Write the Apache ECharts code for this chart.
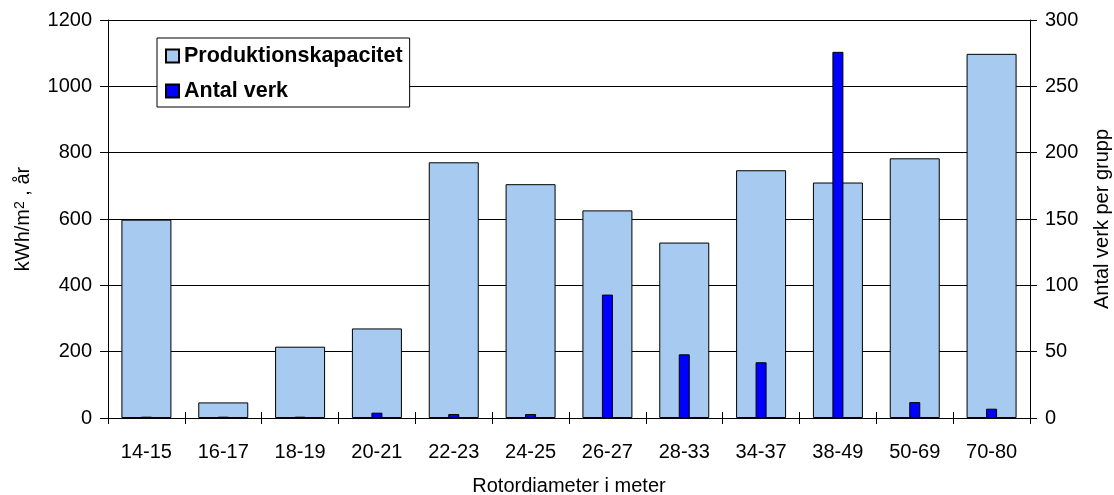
<!DOCTYPE html>
<html>
<head>
<meta charset="utf-8">
<script src="https://cdn.jsdelivr.net/npm/echarts@6/dist/echarts.min.js"></script>
<style>
  html, body { margin: 0; padding: 0; background: #fff; }
  #chart { width: 1114px; height: 495px; }
</style>
</head>
<body>
<div id="chart"></div>
<script>
// Rotor diameter groups (m)
const categories = ['14-15', '16-17', '18-19', '20-21', '22-23', '24-25', '26-27', '28-33', '34-37', '38-49', '50-69', '70-80'];
// Production capacity, kWh/m², år (left axis)
const produktionskapacitet = [598, 47, 215, 270, 771, 705, 626, 529, 747, 710, 783, 1098];
// Number of turbines per group (right axis)
const antalVerk = [1, 1, 1, 4, 3, 3, 93, 48, 42, 276, 12, 7];

const leftTicks = { min: 0, max: 1200, interval: 200 };
const rightTicks = { min: 0, max: 300, interval: 50 };

const FONT = '"Liberation Sans", Arial, sans-serif';
const black = '#000000';
const plain = (v) => String(v);

const chart = echarts.init(document.getElementById('chart'), null, { renderer: 'canvas' });

chart.setOption({
  animation: false,
  backgroundColor: '#ffffff',
  textStyle: { fontFamily: FONT, color: black },
  grid: { left: 108, right: 84, top: 20, bottom: 77, containLabel: false, outerBoundsMode: 'none' },
  legend: {
    orient: 'vertical',
    left: 157,
    top: 38,
    padding: [7, 7, 5, 8],
    itemGap: 13,
    itemWidth: 13,
    itemHeight: 13,
    backgroundColor: '#ffffff',
    borderColor: black,
    borderWidth: 1,
    borderRadius: 0,
    icon: 'rect',
    textStyle: { fontFamily: FONT, fontSize: 21.5, fontWeight: 'bold', color: black },
    data: ['Produktionskapacitet', 'Antal verk']
  },
  xAxis: [
    {
      type: 'category',
      data: categories,
      position: 'bottom',
      axisLine: { lineStyle: { color: black, width: 1 } },
      axisTick: { show: true, inside: false, length: 6, lineStyle: { color: black, width: 1 } },
      axisLabel: { fontFamily: FONT, fontSize: 20, color: black, margin: 24, interval: 0 },
      splitLine: { show: false },
      name: 'Rotordiameter i meter',
      nameLocation: 'middle',
      nameGap: 58,
      nameTextStyle: { fontFamily: FONT, fontSize: 20, color: black }
    },
    {
      // twin category axis: inside half of the crossing tick marks, and centring of the narrow bars
      type: 'category',
      data: categories,
      position: 'bottom',
      axisLine: { show: false },
      axisTick: { show: true, inside: true, length: 6, lineStyle: { color: black, width: 1 } },
      axisLabel: { show: false },
      splitLine: { show: false }
    }
  ],
  yAxis: [
    {
      type: 'value',
      position: 'left',
      min: leftTicks.min,
      max: leftTicks.max,
      interval: leftTicks.interval,
      axisLine: { show: true, lineStyle: { color: black, width: 1 } },
      axisTick: { show: true, inside: false, length: 8, lineStyle: { color: black } },
      axisLabel: { fontFamily: FONT, fontSize: 20, color: black, margin: 16, formatter: plain },
      splitLine: { show: true, lineStyle: { color: black, width: 1 } },
      name: '{a|kWh/m}{s|2}{a| , år}',
      nameLocation: 'middle',
      nameRotate: 90,
      nameGap: 75,
      nameTextStyle: {
        fontFamily: FONT,
        color: black,
        rich: {
          a: { fontFamily: FONT, fontSize: 20, color: black },
          s: { fontFamily: FONT, fontSize: 14, color: black, verticalAlign: 'top' }
        }
      }
    },
    {
      type: 'value',
      position: 'right',
      min: rightTicks.min,
      max: rightTicks.max,
      interval: rightTicks.interval,
      axisLine: { show: true, lineStyle: { color: black, width: 1 } },
      axisTick: { show: true, inside: false, length: 7, lineStyle: { color: black } },
      axisLabel: { fontFamily: FONT, fontSize: 20, color: black, margin: 15, formatter: plain },
      splitLine: { show: false },
      name: 'Antal verk per grupp',
      nameLocation: 'middle',
      nameRotate: 90,
      nameGap: 62,
      nameTextStyle: { fontFamily: FONT, fontSize: 20, color: black }
    }
  ],
  series: [
    {
      name: 'Produktionskapacitet',
      type: 'bar',
      xAxisIndex: 0,
      yAxisIndex: 0,
      barWidth: 50,
      data: produktionskapacitet,
      itemStyle: { color: '#a6caf0', borderColor: black, borderWidth: 1 }
    },
    {
      name: 'Antal verk',
      type: 'bar',
      xAxisIndex: 1,
      yAxisIndex: 1,
      barWidth: 11,
      data: antalVerk,
      itemStyle: { color: '#0000ff', borderColor: black, borderWidth: 1 }
    }
  ]
});
</script>
</body>
</html>
